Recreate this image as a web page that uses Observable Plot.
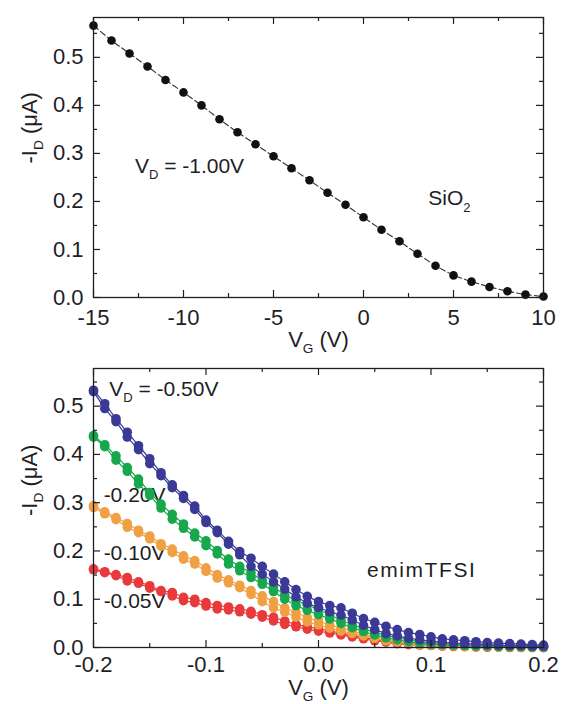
<!DOCTYPE html>
<html>
<head>
<meta charset="utf-8">
<script src="https://cdn.jsdelivr.net/npm/d3@7"></script>
<script src="https://cdn.jsdelivr.net/npm/@observablehq/plot@0.6"></script>
<style>
  html, body { margin: 0; padding: 0; background: #fff; }
  svg { display: block; }
</style>
</head>
<body>
<script>
// ---------- Top panel (SiO2) data ----------
const vgTop = [-15,-14,-13,-12,-11,-10,-9,-8,-7,-6,-5,-4,-3,-2,-1,0,1,2,3,4,5,6,7,8,9,10];
const idTop = [0.566,0.535,0.508,0.481,0.453,0.427,0.400,0.371,0.344,0.319,0.294,0.269,0.244,0.218,0.193,0.167,0.141,0.117,0.091,0.066,0.046,0.033,0.022,0.013,0.006,0.002];

// ---------- Bottom panel (emimTFSI) data ----------
const vgBot = [-0.20,-0.19,-0.18,-0.17,-0.16,-0.15,-0.14,-0.13,-0.12,-0.11,-0.10,-0.09,-0.08,-0.07,-0.06,-0.05,-0.04,-0.03,-0.02,-0.01,0.00,0.01,0.02,0.03,0.04,0.05,0.06,0.07,0.08,0.09,0.10,0.11,0.12,0.13,0.14,0.15,0.16,0.17,0.18,0.19,0.20];

const vd050A = [0.533,0.505,0.474,0.446,0.418,0.391,0.362,0.337,0.315,0.293,0.264,0.243,0.220,0.199,0.185,0.168,0.152,0.136,0.120,0.106,0.095,0.087,0.082,0.071,0.060,0.052,0.044,0.037,0.031,0.027,0.022,0.018,0.016,0.014,0.012,0.010,0.009,0.008,0.007,0.006,0.005];
const vd050B = [0.530,0.495,0.468,0.436,0.410,0.381,0.356,0.331,0.309,0.286,0.259,0.238,0.214,0.192,0.168,0.152,0.136,0.121,0.105,0.092,0.083,0.074,0.067,0.057,0.046,0.037,0.029,0.024,0.019,0.016,0.013,0.011,0.009,0.008,0.007,0.006,0.005,0.004,0.004,0.003,0.003];
const vd020A = [0.439,0.420,0.397,0.373,0.349,0.321,0.297,0.276,0.256,0.237,0.221,0.201,0.183,0.168,0.155,0.139,0.126,0.109,0.098,0.088,0.079,0.068,0.057,0.047,0.039,0.031,0.025,0.020,0.016,0.012,0.010,0.008,0.006,0.005,0.004,0.004,0.003,0.003,0.002,0.002,0.002];
const vd020B = [0.436,0.416,0.388,0.365,0.339,0.315,0.289,0.266,0.247,0.229,0.211,0.194,0.173,0.159,0.145,0.131,0.116,0.100,0.087,0.077,0.068,0.059,0.050,0.041,0.033,0.026,0.020,0.016,0.012,0.009,0.007,0.006,0.005,0.004,0.003,0.003,0.002,0.002,0.002,0.001,0.001];
const vd010A = [0.294,0.281,0.269,0.257,0.243,0.231,0.215,0.204,0.190,0.180,0.165,0.151,0.140,0.129,0.118,0.107,0.095,0.082,0.073,0.062,0.055,0.047,0.040,0.034,0.028,0.022,0.017,0.013,0.010,0.008,0.006,0.005,0.004,0.003,0.003,0.002,0.002,0.002,0.001,0.001,0.001];
const vd010B = [0.290,0.277,0.265,0.249,0.238,0.225,0.210,0.197,0.183,0.173,0.158,0.144,0.134,0.124,0.110,0.095,0.082,0.073,0.063,0.053,0.047,0.040,0.034,0.029,0.024,0.019,0.014,0.011,0.008,0.006,0.005,0.004,0.003,0.002,0.002,0.002,0.001,0.001,0.001,0.001,0.001];
const vd005A = [0.163,0.157,0.151,0.145,0.136,0.128,0.118,0.114,0.104,0.100,0.093,0.087,0.084,0.080,0.075,0.068,0.063,0.055,0.048,0.043,0.039,0.034,0.030,0.025,0.021,0.017,0.013,0.010,0.008,0.006,0.005,0.004,0.003,0.002,0.002,0.001,0.001,0.001,0.001,0.001,0.000];
const vd005B = [0.161,0.155,0.149,0.138,0.133,0.123,0.116,0.107,0.097,0.093,0.086,0.080,0.078,0.074,0.069,0.063,0.055,0.048,0.043,0.038,0.034,0.030,0.026,0.022,0.018,0.014,0.011,0.008,0.006,0.005,0.004,0.003,0.002,0.002,0.001,0.001,0.001,0.000,0.000,0.000,0.000];

const seriesNames = ["-0.05V", "-0.10V", "-0.20V", "-0.50V"];
const seriesColors = ["#e8393b", "#f0a043", "#17a74c", "#3b3996"];
const seriesSweeps = [[vd005A, vd005B], [vd010A, vd010B], [vd020A, vd020B], [vd050A, vd050B]];

// ---------- Ticks ----------
const xMajorTop = [-15, -10, -5, 0, 5, 10];
const xMinorTop = [-12.5, -7.5, -2.5, 2.5, 7.5];
const xMajorBot = [-0.2, -0.1, 0, 0.1, 0.2];
const xMinorBot = [-0.15, -0.05, 0.05, 0.15];
const yMajor = [0, 0.1, 0.2, 0.3, 0.4, 0.5];
const yMinor = [0.05, 0.15, 0.25, 0.35, 0.45, 0.55];

// ---------- Annotations ----------
const notesTop = [
  {x: -12.7, y: 0.274, t: "V_D = -1.00V"},
  {x: 3.6, y: 0.206, t: "SiO_2"}
];
const notesBot = [
  {x: -0.186, y: 0.536, t: "V_D = -0.50V"},
  {x: -0.191, y: 0.315, t: "-0.20V"},
  {x: -0.191, y: 0.195, t: "-0.10V"},
  {x: -0.191, y: 0.096, t: "-0.05V"},
  {x: 0.043, y: 0.161, t: "emimTFSI"}
];

const INK = "#1e1e26";
const FONT = "'Liberation Sans', Arial, Helvetica, sans-serif";
const W = 561, H = 352, ML = 93, MR = 18;

function frameDecor(xMaj, xMin, fh, fw) {
  const maj = 7, mnr = 4;
  return [
    Plot.tickX(xMaj, {x: d => d, insetTop: fh - maj, stroke: INK, strokeWidth: 1.2}),
    Plot.tickX(xMaj, {x: d => d, insetBottom: fh - maj, stroke: INK, strokeWidth: 1.2}),
    Plot.tickX(xMin, {x: d => d, insetTop: fh - mnr, stroke: INK, strokeWidth: 1.2}),
    Plot.tickX(xMin, {x: d => d, insetBottom: fh - mnr, stroke: INK, strokeWidth: 1.2}),
    Plot.tickY(yMajor, {y: d => d, insetRight: fw - maj, stroke: INK, strokeWidth: 1.2}),
    Plot.tickY(yMajor, {y: d => d, insetLeft: fw - maj, stroke: INK, strokeWidth: 1.2}),
    Plot.tickY(yMinor, {y: d => d, insetRight: fw - mnr, stroke: INK, strokeWidth: 1.2}),
    Plot.tickY(yMinor, {y: d => d, insetLeft: fw - mnr, stroke: INK, strokeWidth: 1.2}),
    Plot.frame({stroke: INK, strokeWidth: 1.3})
  ];
}

function applySubs(svg) {
  d3.select(svg).selectAll("text").each(function () {
    const t = this.textContent;
    if (t === "emimTFSI") d3.select(this).attr("letter-spacing", "1.6px");
    if (!t.includes("_")) return;
    const parts = t.split(/_(\w)/);
    const sel = d3.select(this);
    sel.text(null);
    let after = false;
    parts.forEach((p, i) => {
      if (p === "") return;
      const ts = sel.append("tspan").text(p);
      if (i % 2 === 1) {
        ts.attr("font-size", "0.62em").attr("dy", "0.5em");
        after = true;
      } else if (after) {
        ts.attr("dy", "-0.31em");
        after = false;
      }
    });
  });
}

// ---------- Top plot ----------
const topRows = vgTop.map((v, i) => ({vg: v, id: idTop[i]}));
const MT1 = 17, MB1 = 55;
const fh1 = H - MT1 - MB1, fw = W - ML - MR;

const plotTop = Plot.plot({
  width: W, height: H,
  marginLeft: ML, marginRight: MR, marginTop: MT1, marginBottom: MB1,
  style: {fontFamily: FONT, fontSize: "22px", color: INK, background: "white", overflow: "visible"},
  x: {domain: [-15, 10]},
  y: {domain: [0, 0.583]},
  marks: [
    Plot.axisX({ticks: xMajorTop, tickSize: 0, tickPadding: 12, tickFormat: d => String(d), label: null, fontSize: 22}),
    Plot.axisY({ticks: yMajor, tickSize: 0, tickPadding: 10, tickFormat: d => d.toFixed(1), label: null, fontSize: 22}),
    Plot.text(["V_G (V)"], {frameAnchor: "bottom", dy: 42, lineAnchor: "middle", fontSize: 22, fill: INK}),
    Plot.text(["-I_D (\u03bcA)"], {frameAnchor: "left", dx: -64, dy: 6, rotate: -90, lineAnchor: "middle", fontSize: 22, fill: INK}),
    Plot.text(notesTop, {x: "x", y: "y", text: "t", textAnchor: "start", lineAnchor: "middle", fontSize: 21, fill: INK}),
    Plot.line(topRows, {x: "vg", y: "id", stroke: "#333", strokeWidth: 1.1, strokeDasharray: "6,3"}),
    Plot.dot(topRows, {x: "vg", y: "id", r: 4.3, fill: "#111", stroke: "none"}),
    ...frameDecor(xMajorTop, xMinorTop, fh1, fw)
  ]
});
applySubs(plotTop);
document.body.appendChild(plotTop);

// ---------- Bottom plot ----------
const botRows = [];
seriesSweeps.forEach((sw, s) => {
  sw.forEach((arr, k) => {
    arr.forEach((val, i) => botRows.push({vg: vgBot[i], id: val, series: seriesNames[s], sweep: seriesNames[s] + "-" + k}));
  });
});
const MT2 = 16, MB2 = 57;
const fh2 = H - MT2 - MB2;

const seriesMarks = [];
seriesNames.forEach((name, s) => {
  const rows = botRows.filter(r => r.series === name);
  seriesMarks.push(Plot.line(rows, {x: "vg", y: "id", z: "sweep", stroke: seriesColors[s], strokeWidth: 1.2}));
  seriesMarks.push(Plot.dot(rows, {x: "vg", y: "id", r: 4.8, fill: seriesColors[s], stroke: "none"}));
});

const plotBot = Plot.plot({
  width: W, height: H,
  marginLeft: ML, marginRight: MR, marginTop: MT2, marginBottom: MB2,
  style: {fontFamily: FONT, fontSize: "22px", color: INK, background: "white", overflow: "visible"},
  x: {domain: [-0.2, 0.2]},
  y: {domain: [0, 0.578]},
  marks: [
    Plot.axisX({ticks: xMajorBot, tickSize: 0, tickPadding: 9, tickFormat: d => d.toFixed(1), label: null, fontSize: 22}),
    Plot.axisY({ticks: yMajor, tickSize: 0, tickPadding: 10, tickFormat: d => d.toFixed(1), label: null, fontSize: 22}),
    Plot.text(["V_G (V)"], {frameAnchor: "bottom", dy: 40, lineAnchor: "middle", fontSize: 22, fill: INK}),
    Plot.text(["-I_D (\u03bcA)"], {frameAnchor: "left", dx: -64, dy: 8, rotate: -90, lineAnchor: "middle", fontSize: 22, fill: INK}),
    Plot.text(notesBot, {x: "x", y: "y", text: "t", textAnchor: "start", lineAnchor: "middle", fontSize: 21, fill: INK}),
    ...seriesMarks,
    ...frameDecor(xMajorBot, xMinorBot, fh2, fw)
  ]
});
applySubs(plotBot);
document.body.appendChild(plotBot);
</script>
</body>
</html>
